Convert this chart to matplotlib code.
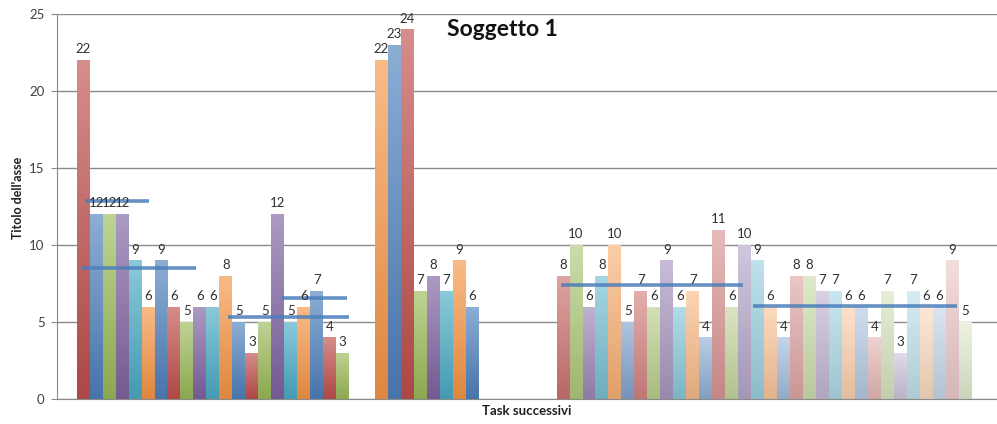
import numpy as np
import matplotlib
matplotlib.use("Agg")
import matplotlib.pyplot as plt
from matplotlib.colors import to_rgb

plt.rcParams['font.family'] = ['Lato', 'DejaVu Sans']

# Task durations, three blocks of successive tasks
block1_values = [22, 12, 12, 12, 9, 6, 9, 6, 5, 6, 6, 8, 5, 3, 5, 12, 5, 6, 7, 4, 3]
block2_values = [22, 23, 24, 7, 8, 7, 9, 6]
block3_values = [8, 10, 6, 8, 10, 5, 7, 6, 9, 6, 7, 4, 11, 6, 10, 9,
                 6, 4, 8, 8, 7, 7, 6, 6, 4, 7, 3, 7, 6, 6, 9, 5]

block1_colors = ['red', 'blue', 'green', 'purple', 'cyan', 'orange',
                 'blue', 'red', 'green', 'purple', 'cyan', 'orange',
                 'blue', 'red', 'green', 'purple', 'cyan', 'orange',
                 'blue', 'red', 'green']
block2_colors = ['orange', 'blue', 'red', 'green', 'purple', 'cyan', 'orange', 'blue']
block3_cycle = ['red', 'green', 'purple', 'cyan', 'orange', 'blue']

# Average reference levels (value, first bar slot, last bar slot)
ref_levels = [12.85, 8.5, 5.35, 6.55, 7.4, 6.05]
ref_start = [0.65, 0.4, 11.7, 15.8, 37.35, 52.15]
ref_end = [5.6, 9.2, 21.0, 20.85, 51.4, 67.9]

title = "Soggetto 1"
y_title = "Titolo dell'asse"
x_title = "Task successivi"
y_ticks = [0, 5, 10, 15, 20, 25]

palette = {
    'red': '#C0504D', 'blue': '#4F81BD', 'green': '#9BBB59',
    'purple': '#8064A2', 'cyan': '#4BACC6', 'orange': '#F79646',
}

# slot layout: block1 at 0.., block2 after a 2-slot gap, block3 after a 6-slot gap
start1 = 0
start2 = start1 + len(block1_values) + 2
start3 = start2 + len(block2_values) + 6

values = block1_values + block2_values + block3_values
slots = (list(range(start1, start1 + len(block1_values)))
         + list(range(start2, start2 + len(block2_values)))
         + list(range(start3, start3 + len(block3_values))))
names = (block1_colors + block2_colors
         + [block3_cycle[i % 6] for i in range(len(block3_values))])
fade = ([0.0] * len(block1_values) + [0.0] * len(block2_values)
        + list(np.linspace(0.2, 0.72, len(block3_values))))


def mix(c, w, t):
    c = np.array(c)
    return c * (1 - t) + np.array(w) * t


fig = plt.figure(figsize=(9.97, 4.24), dpi=100)
ax = fig.add_axes([57 / 997, 1 - 399 / 424, 1 - 57 / 997, (399 - 14) / 424])

ax.set_xlim(-1.52, 70.96)
ax.set_ylim(0, 25)

ax.set_yticks(y_ticks)
ax.yaxis.grid(True, color='#8a8a8a', linewidth=1.0)
ax.set_axisbelow(True)
ax.set_xticks([])
for s in ['top', 'right']:
    ax.spines[s].set_visible(False)
ax.spines['left'].set_color('#8a8a8a')
ax.spines['bottom'].set_color('#8a8a8a')
ax.tick_params(axis='y', length=4, color='#8a8a8a', labelsize=9.5,
               labelcolor='#404040', pad=5)

bars = ax.bar([s + 0.5 for s in slots], values, width=1.0, color='none',
              edgecolor='none', zorder=2)

for b, v, nm, f in zip(bars, values, names, fade):
    base = mix(to_rgb(palette[nm]), (1, 1, 1), f)
    top = mix(base, (1, 1, 1), 0.35)
    bottom = mix(base, (0, 0, 0), 0.1)
    grad = np.linspace(0, 1, 64)[:, None, None]
    img = bottom[None, None, :] * (1 - grad) + top[None, None, :] * grad
    x0 = b.get_x()
    im = ax.imshow(img, extent=[x0, x0 + b.get_width(), 0, v], origin='lower',
                   aspect='auto', zorder=2, interpolation='bilinear')
    im.set_clip_path(b)
    ax.annotate(str(v), (b.get_x() + b.get_width() / 2, v),
                xytext=(0, 3.5), textcoords='offset points',
                ha='center', va='bottom', fontsize=9.5, color='#303030',
                zorder=4)

ax.set_xlim(-1.52, 70.96)
ax.set_ylim(0, 25)

for lv, s0, s1 in zip(ref_levels, ref_start, ref_end):
    ax.plot([s0, s1], [lv, lv], color='#4A7EBB', alpha=0.85, linewidth=2.6,
            solid_capstyle='butt', zorder=3)

ax.set_xlabel(x_title, fontsize=9.5, fontweight='bold', color='#202020',
              labelpad=4)
fig.text(18 / 997, 1 - 198 / 424, y_title, rotation=90, fontsize=9,
         fontweight='bold', color='#202020', ha='center', va='center')
fig.text(502 / 997, 1 - 29 / 424, title, fontsize=16.5, fontweight='bold',
         color='#111111', ha='center', va='center')

fig.savefig('out.png', dpi=100)
